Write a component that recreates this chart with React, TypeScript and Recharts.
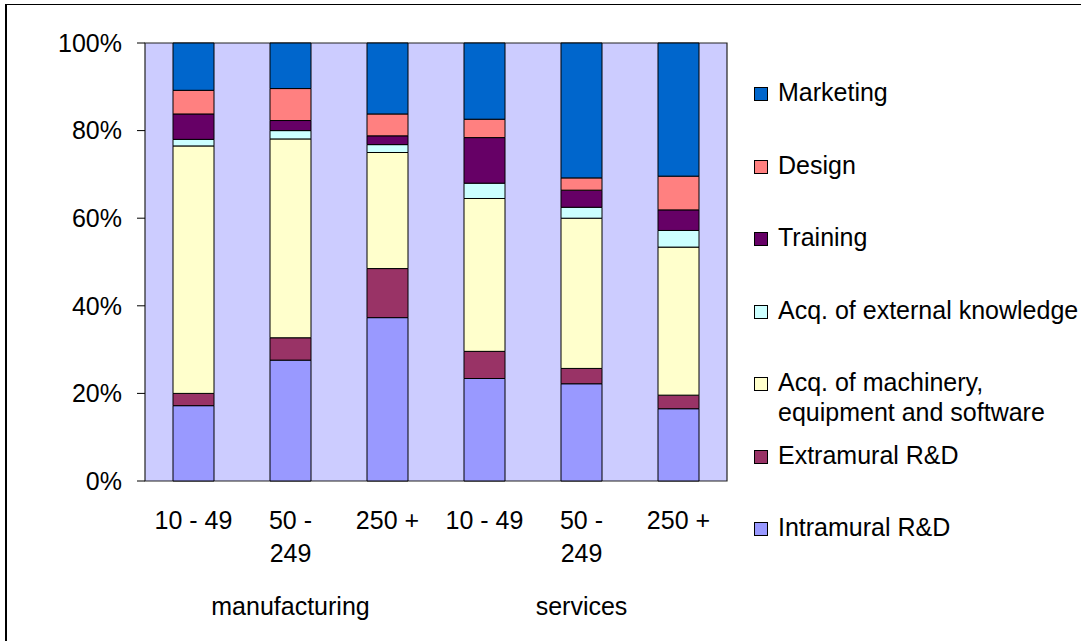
import React from 'react';
import { BarChart, Bar, XAxis, YAxis, CartesianGrid, Legend, ReferenceArea } from 'recharts';

const categories = ['10 - 49', '50 - 249', '250 +', '10 - 49', '50 - 249', '250 +'];
const groups = ['manufacturing', 'manufacturing', 'manufacturing', 'services', 'services', 'services'];
const intramural = [17.2, 27.6, 37.3, 23.4, 22.2, 16.5];
const extramural = [2.8, 5.1, 11.2, 6.2, 3.5, 3.1];
const machinery = [56.5, 45.4, 26.5, 34.9, 34.3, 33.8];
const externalKnowledge = [1.5, 1.9, 1.8, 3.5, 2.5, 3.8];
const training = [5.8, 2.3, 2.0, 10.4, 3.9, 4.7];
const design = [5.4, 7.3, 5.0, 4.2, 2.8, 7.7];
const marketing = [10.8, 10.4, 16.2, 17.4, 30.8, 30.4];
const yTicks = [0, 20, 40, 60, 80, 100];

const seriesList = [
  { key: 'intramural', name: 'Intramural R&D', color: '#9999FF', values: intramural },
  { key: 'extramural', name: 'Extramural R&D', color: '#993366', values: extramural },
  { key: 'machinery', name: 'Acq. of machinery, equipment and software', color: '#FFFFCC', values: machinery },
  { key: 'externalKnowledge', name: 'Acq. of external knowledge', color: '#CCFFFF', values: externalKnowledge },
  { key: 'training', name: 'Training', color: '#660066', values: training },
  { key: 'design', name: 'Design', color: '#FF8080', values: design },
  { key: 'marketing', name: 'Marketing', color: '#0066CC', values: marketing },
];

const data = categories.map((cat, i) => {
  const row: Record<string, any> = { cat, group: groups[i] };
  seriesList.forEach((s) => {
    row[s.key] = s.values[i];
  });
  return row;
});

const FONT = '"Liberation Sans", Arial, Helvetica, sans-serif';
const FS = 25;

const wrapLabel = (s: string): string[] => {
  if (s.length <= 7) return [s];
  const idx = s.lastIndexOf(' ');
  return [s.slice(0, idx), s.slice(idx + 1)];
};

const CatTick = (props: any) => {
  const { x, y, payload } = props;
  const lines = wrapLabel(String(payload.value));
  return (
    <text x={x} y={y} textAnchor="middle" fontFamily={FONT} fontSize={FS} fill="#000">
      {lines.map((l, i) => (
        <tspan key={i} x={x} dy={i === 0 ? 48 : 33}>
          {l}
        </tspan>
      ))}
    </text>
  );
};

const GroupTick = (props: any) => {
  const { x, y, payload, index } = props;
  if (index % 3 !== 1) return <g />;
  return (
    <text x={x} y={y} dy={39} textAnchor="middle" fontFamily={FONT} fontSize={FS} fill="#000">
      {payload.value}
    </text>
  );
};

const LegendContent = (props: any) => {
  const payload: any[] = props.payload || [];
  const items = [...seriesList].reverse().map((s) => {
    const p = payload.find((e: any) => e.value === s.name);
    return { name: s.name, color: (p && p.color) || s.color };
  });
  return (
    <div style={{ fontFamily: FONT, fontSize: FS, color: '#000' }}>
      {items.map((it) => (
        <div key={it.name} style={{ height: 72.5, display: 'flex', alignItems: 'flex-start' }}>
          <div
            style={{
              width: 14,
              height: 14,
              background: it.color,
              border: '1px solid #000',
              boxSizing: 'border-box',
              marginTop: 10,
              flexShrink: 0,
            }}
          />
          <div style={{ marginLeft: 10, lineHeight: '30px', width: 306, whiteSpace: 'normal' }}>{it.name}</div>
        </div>
      ))}
    </div>
  );
};

export default function App() {
  return (
    <div style={{ position: 'relative', width: 1081, height: 641, overflow: 'hidden', background: '#fff' }}>
      <style>{'body{margin:0;overflow:hidden;}'}</style>
      <div
        style={{
          position: 'absolute',
          left: 5,
          top: 4,
          width: 1200,
          height: 800,
          borderTop: '1.5px solid #000',
          borderLeft: '2px solid #000',
          pointerEvents: 'none',
        }}
      />
      <BarChart
        width={1081}
        height={641}
        data={data}
        margin={{ top: 43, right: 354, bottom: 0, left: 0 }}
        barSize={41}
      >
        <CartesianGrid horizontal={false} vertical={false} fill="#CCCCFF" fillOpacity={1} />
        <XAxis
          dataKey="cat"
          height={95}
          axisLine={false}
          tickLine={false}
          tickSize={0}
          tickMargin={0}
          interval={0}
          tick={<CatTick />}
        />
        <XAxis
          xAxisId="group"
          dataKey="group"
          height={65}
          axisLine={false}
          tickLine={false}
          tickSize={0}
          tickMargin={0}
          interval={0}
          tick={<GroupTick />}
        />
        <YAxis
          width={145}
          domain={[0, 100]}
          ticks={yTicks}
          tickFormatter={(v: number) => `${v}%`}
          axisLine={false}
          tickLine={{ stroke: '#000', strokeWidth: 1 }}
          tickSize={8}
          tickMargin={15}
          tick={{ fontSize: FS, fill: '#000', fontFamily: FONT }}
        />
        {seriesList.map((s) => (
          <Bar
            key={s.key}
            dataKey={s.key}
            name={s.name}
            stackId="a"
            fill={s.color}
            stroke="#000"
            strokeWidth={1}
            isAnimationActive={false}
          />
        ))}
        <ReferenceArea y1={0} y2={100} fill="none" stroke="#222" strokeWidth={1.2} />
        <Legend
          layout="vertical"
          align="center"
          verticalAlign="middle"
          width={327}
          wrapperStyle={{ left: 754, top: 77, width: 327 }}
          content={<LegendContent />}
        />
      </BarChart>
    </div>
  );
}
